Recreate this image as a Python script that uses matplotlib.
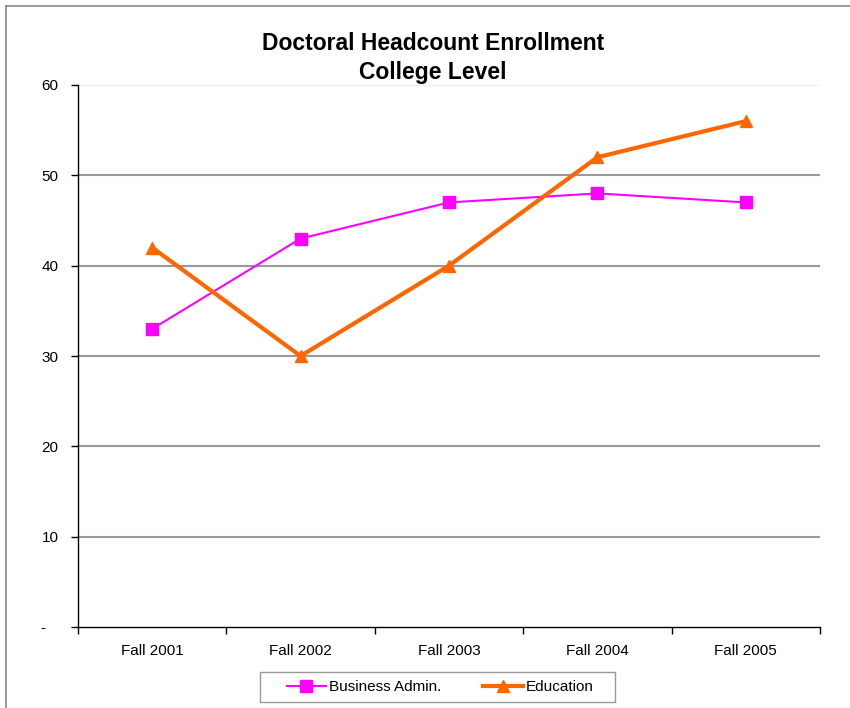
import matplotlib
matplotlib.use("Agg")
import matplotlib.pyplot as plt
from matplotlib.lines import Line2D
from matplotlib.patches import Rectangle

categories = ["Fall 2001", "Fall 2002", "Fall 2003", "Fall 2004", "Fall 2005"]
business_admin = [33, 43, 47, 48, 47]
education = [42, 30, 40, 52, 56]
y_ticks = [0, 10, 20, 30, 40, 50, 60]
y_tick_labels = ["-   ", "10", "20", "30", "40", "50", "60"]

plt.rcParams['font.family'] = ['Liberation Sans', 'DejaVu Sans']

fig = plt.figure(figsize=(8.5, 7.08), dpi=100)
ax = fig.add_axes([78/850, 1-627/708, (820-78)/850, (627-85)/708])

x = list(range(len(categories)))
ax.set_xlim(-0.5, len(categories) - 0.5)
ax.set_ylim(0, 60)

for yv in y_ticks[1:]:
    ax.axhline(yv, color='#eeeeee' if yv == 60 else '#999999', lw=1.5, zorder=1)

ax.plot(x, business_admin, color='#FF00FF', lw=1.5, marker='s', markersize=8,
        markeredgecolor='#FF00FF', label='Business Admin.', zorder=3)
ax.plot(x, education, color='#FF6600', lw=3, marker='^', markersize=9,
        markeredgecolor='#FF6600', label='Education', zorder=4)

ax.set_yticks(y_ticks)
ax.set_yticklabels(y_tick_labels, fontsize=11)
ax.set_xticks([i + 0.5 for i in range(-1, len(categories))], minor=False)
ax.set_xticklabels([])
ax.set_xticks(x, minor=True)
ax.set_xticklabels(categories, minor=True, fontsize=11)
ax.tick_params(axis='x', which='minor', length=0, pad=12)
ax.tick_params(axis='x', which='major', direction='out', length=5, width=1, color='black')
ax.tick_params(axis='y', direction='out', length=5, width=1, pad=9)

for s in ['top', 'right']:
    ax.spines[s].set_visible(False)
for s in ['left', 'bottom']:
    ax.spines[s].set_color('black')
    ax.spines[s].set_linewidth(1)

fig.text(0.509, 1-44/708, "Doctoral Headcount Enrollment", ha='center', va='center',
         fontsize=16.5, fontweight='bold')
fig.text(0.509, 1-73/708, "College Level", ha='center', va='center',
         fontsize=16.5, fontweight='bold')

# legend frame
fig.patches.append(Rectangle((260/850, 1-702/708), (615-260)/850, 30/708,
                             transform=fig.transFigure, facecolor='white',
                             edgecolor='#999999', lw=1, zorder=0))
leg = fig.legend(loc='center', bbox_to_anchor=(440/850, 1-687/708), ncol=2,
                 frameon=False, fontsize=11, handlelength=2.6,
                 handletextpad=0.2, columnspacing=2.7, borderpad=0.0)

# figure border (top and left)
fig.add_artist(Line2D([6/850, 1], [1-6/708, 1-6/708], transform=fig.transFigure,
                      color='#888888', lw=1.2))
fig.add_artist(Line2D([6/850, 6/850], [0, 1-6/708], transform=fig.transFigure,
                      color='#888888', lw=1.2))

fig.savefig("out.png", dpi=100)
